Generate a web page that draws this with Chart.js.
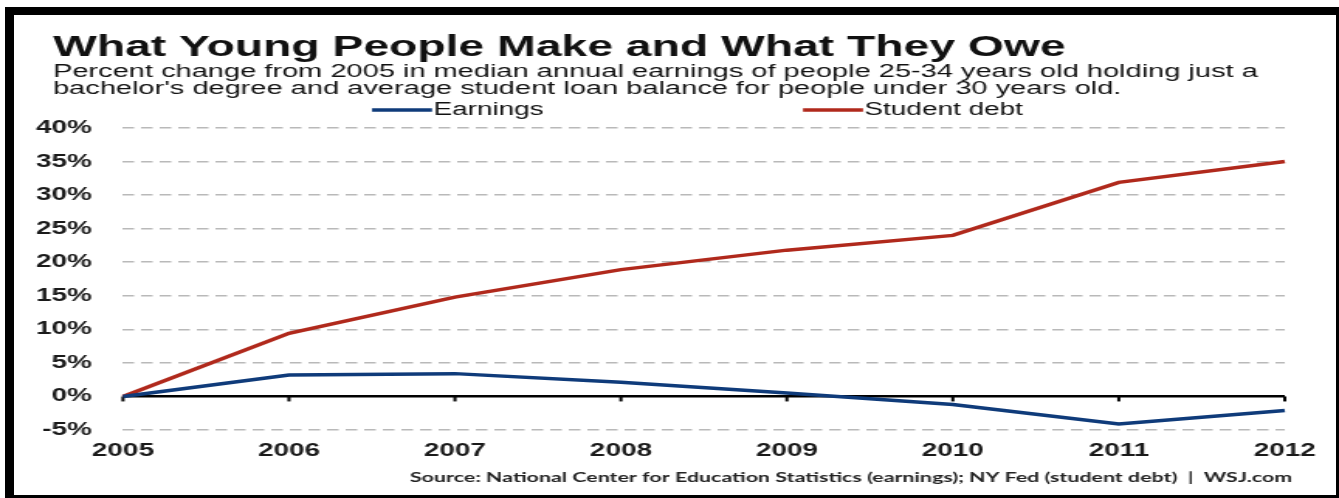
<!DOCTYPE html>
<html>
<head>
<meta charset="utf-8">
<script src="https://cdn.jsdelivr.net/npm/chart.js@4"></script>
<style>
  html, body { margin: 0; padding: 0; background: #fff; }
  body { width: 1339px; height: 498px; position: relative; overflow: hidden; }
  #chart { position: absolute; left: 0; top: 0; }
  #frame {
    position: absolute; left: 5px; top: 7px; width: 1334px; height: 491px;
    box-sizing: border-box; border-style: solid; border-color: #000;
    border-width: 8px 3px 3px 9px; pointer-events: none;
  }
</style>
</head>
<body>
<!-- the original picture is stretched sideways, so the canvas is too -->
<canvas id="chart" width="864" height="498" style="width:1339px;height:498px"></canvas>
<div id="frame"></div>
<script>

// data (percent change from 2005)
const years = ['2005', '2006', '2007', '2008', '2009', '2010', '2011', '2012']
const earnings = [0, 3.2, 3.4, 2.1, 0.5, -1.2, -4.1, -2.1]
const studentDebt = [0, 9.4, 14.8, 18.9, 21.8, 24.0, 31.9, 35.0]
const seriesNames = ['Earnings', 'Student debt']
const yMin = -5
const yMax = 40
const yStep = 5

const titleText = 'What Young People Make and What They Owe'
const subtitleLines = [
    'Percent change from 2005 in median annual earnings of people 25-34 years old holding just a',
    "bachelor's degree and average student loan balance for people under 30 years old."
]
const sourceText = 'Source: National Center for Education Statistics (earnings); NY Fed (student debt)  |  WSJ.com'

const SANS = "'Liberation Sans', Arial, Helvetica, sans-serif"
const S = 1339 / 864

// page x -> canvas x
function px(x) {
    return x / S
}

function fitFont(ctx, text, weight, family, width) {
    ctx.font = weight + ' 100px ' + family
    let w = ctx.measureText(text).width
    return 100 * width / w
}


// title, subtitle, legend and source line
const textPlugin = {
    id: 'wsjText',
    afterDraw(chart) {
        let ctx = chart.ctx
        ctx.save()
        ctx.textAlign = 'left'
        ctx.textBaseline = 'alphabetic'
        ctx.fillStyle = '#111'

        let size = fitFont(ctx, titleText, 'bold', SANS, px(1013))
        ctx.font = 'bold ' + size + 'px ' + SANS
        ctx.fillText(titleText, px(53), 56)

        size = fitFont(ctx, subtitleLines[0], 'normal', SANS, px(1205))
        ctx.font = size + 'px ' + SANS
        ctx.fillText(subtitleLines[0], px(53), 77)
        ctx.fillText(subtitleLines[1], px(53), 94)

        // legend: a short line and the series name
        let legendStart = [372, 803]
        ctx.font = '18px ' + SANS
        ctx.textBaseline = 'middle'
        chart.data.datasets.forEach((ds, i) => {
            let x0 = px(legendStart[i])
            let x1 = x0 + px(60)
            ctx.strokeStyle = ds.borderColor
            ctx.lineWidth = 3.5
            ctx.beginPath()
            ctx.moveTo(x0, 110)
            ctx.lineTo(x1, 110)
            ctx.stroke()
            ctx.fillStyle = '#111'
            ctx.fillText(ds.label, x1 + 1, 110)
        })

        ctx.textBaseline = 'alphabetic'
        size = fitFont(ctx, sourceText, 'bold', 'Lato, sans-serif', px(883))
        ctx.font = 'bold ' + size + 'px Lato, sans-serif'
        ctx.fillStyle = '#222'
        ctx.fillText(sourceText, px(410), 482)

        ctx.restore()
    }
}

// small tick marks hanging under the zero line
const zeroTicks = {
    id: 'zeroTicks',
    beforeDatasetsDraw(chart) {
        let xs = chart.scales.x
        let y0 = chart.scales.y.getPixelForValue(0)
        let ctx = chart.ctx
        ctx.save()
        ctx.fillStyle = '#000'
        years.forEach((yr, i) => {
            let x = xs.getPixelForValue(i)
            ctx.fillRect(x - 1, y0, 2, 5)
        })
        ctx.restore()
    }
}


const ctx = document.getElementById('chart')

const chart = new Chart(ctx, {
    type: 'line',
    data: {
        labels: years,
        datasets: [{
            label: seriesNames[0],
            data: earnings,
            borderColor: '#0f3b7a',
            backgroundColor: '#0f3b7a',
            borderWidth: 3.5,
            pointRadius: 0,
            tension: 0
        }, {
            label: seriesNames[1],
            data: studentDebt,
            borderColor: '#b0291c',
            backgroundColor: '#b0291c',
            borderWidth: 3.5,
            pointRadius: 0,
            tension: 0
        }]
    },
    options: {
        responsive: false,
        devicePixelRatio: 1,
        animation: false,
        events: [],
        layout: {
            padding: { left: 0, right: 35, top: 128, bottom: 26.4 }
        },
        scales: {
            x: {
                type: 'category',
                offset: false,
                grid: { display: false, drawTicks: false },
                border: { display: false },
                ticks: {
                    autoSkip: false,
                    maxRotation: 0,
                    padding: 10,
                    color: '#1a1a1a',
                    font: { family: SANS, size: 18, weight: 'bold' }
                }
            },
            y: {
                min: yMin,
                max: yMax,
                afterFit: function (scale) {
                    scale.width = px(123)
                },
                grid: {
                    drawTicks: false,
                    color: c => (c.tick && c.tick.value === 0) ? '#000' : '#b9b9b9',
                    lineWidth: c => (c.tick && c.tick.value === 0) ? 2.5 : 1.5
                },
                border: {
                    display: false,
                    dash: c => (c.tick && c.tick.value === 0) ? [] : [7.5, 4.5]
                },
                ticks: {
                    stepSize: yStep,
                    padding: 20,
                    color: '#1a1a1a',
                    font: { family: SANS, size: 18, weight: 'bold' },
                    callback: function (value) {
                        return value + '%'
                    }
                }
            }
        },
        plugins: {
            legend: { display: false },
            tooltip: { enabled: false }
        }
    },
    plugins: [zeroTicks, textPlugin]
})

</script>
</body>
</html>
